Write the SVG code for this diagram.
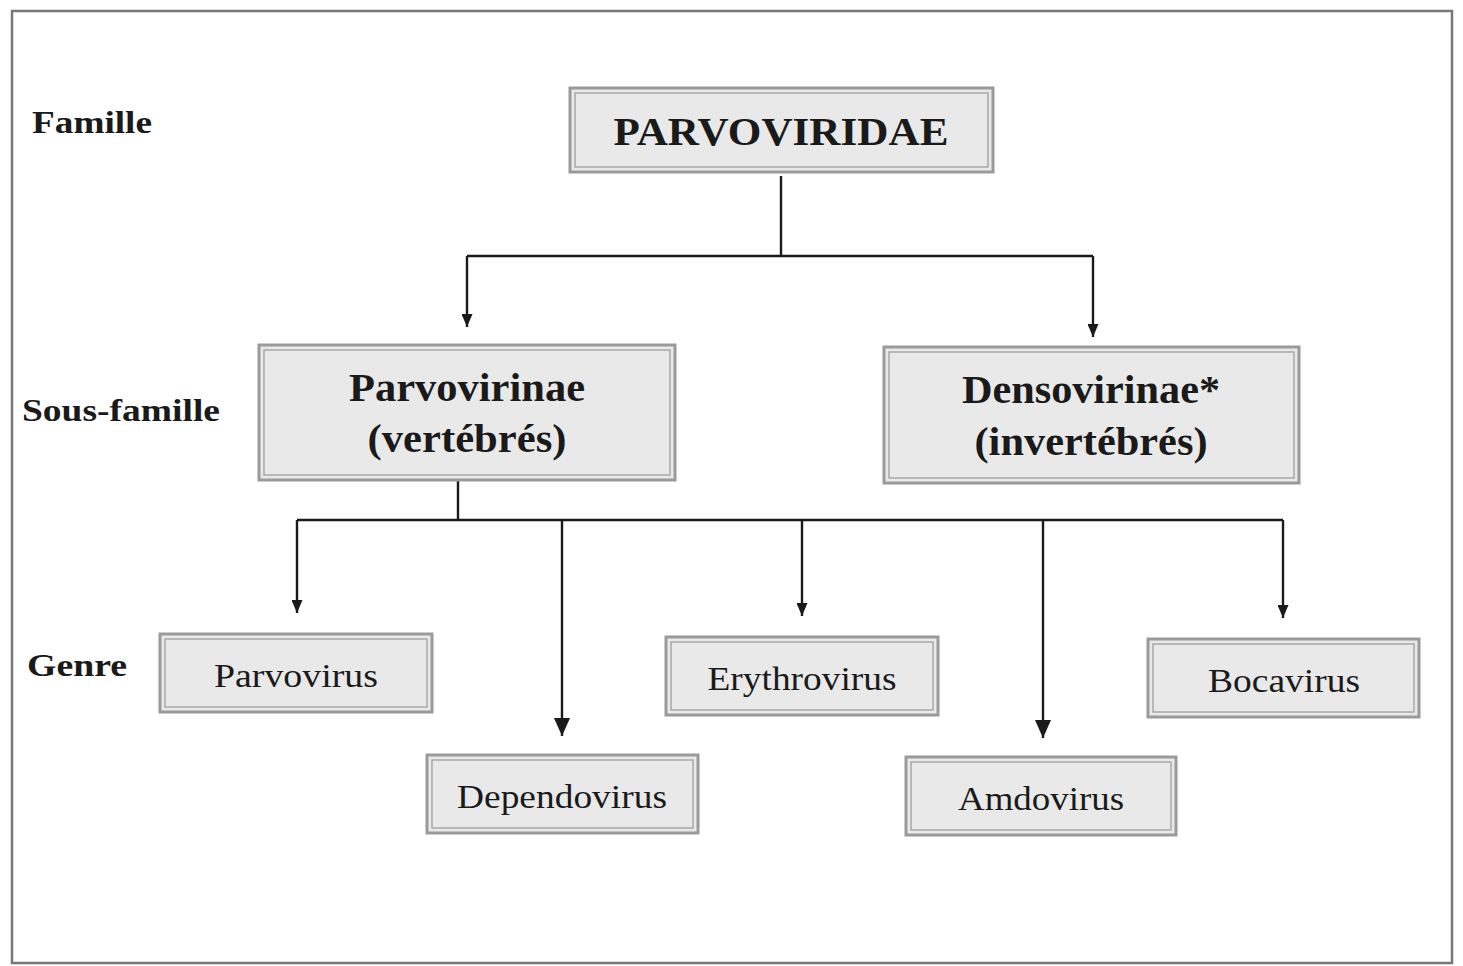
<svg xmlns="http://www.w3.org/2000/svg" width="1463" height="966" viewBox="0 0 1463 966">
<style>
.box{fill:#e9e9e9;stroke:#9a9a9a;stroke-width:3}
.inner{fill:none;stroke:#a8a8a8;stroke-width:1.5}
.t{font-family:"Liberation Serif","Times New Roman",serif;fill:#1a1a1a;text-anchor:middle}
.b{font-weight:bold}
.lab{font-family:"Liberation Serif","Times New Roman",serif;font-weight:bold;fill:#1a1a1a;font-size:32px}
.c{fill:none;stroke:#1a1a1a;stroke-width:2.4}
</style>
<defs>
<marker id="ah" viewBox="0 0 13 11" refX="13" refY="5.5" markerWidth="13" markerHeight="11" markerUnits="userSpaceOnUse" orient="auto">
<path d="M0,0 L13,5.5 L0,11 Z" fill="#1a1a1a"/>
</marker>
<marker id="ahL" viewBox="0 0 18 16" refX="18" refY="8" markerWidth="18" markerHeight="16" markerUnits="userSpaceOnUse" orient="auto">
<path d="M0,0 L18,8 L0,16 Z" fill="#1a1a1a"/>
</marker>
</defs>
<rect width="1463" height="966" fill="#fff"/>
<rect x="12" y="11" width="1440" height="952" fill="none" stroke="#777" stroke-width="2.5"/>
<g id="labels">
<text class="lab" x="32" y="133" textLength="120" lengthAdjust="spacingAndGlyphs">Famille</text>
<text class="lab" x="22" y="421" textLength="198" lengthAdjust="spacingAndGlyphs">Sous-famille</text>
<text class="lab" x="27" y="676" textLength="100" lengthAdjust="spacingAndGlyphs">Genre</text>
</g>
<g id="connectors">
<path class="c" d="M781,176 V256 M467,256 H1093"/>
<path class="c" d="M467,256 V327" marker-end="url(#ah)"/>
<path class="c" d="M1093,256 V337" marker-end="url(#ah)"/>
<path class="c" d="M458,478 V520 M297,520 H1283"/>
<path class="c" d="M297,520 V613" marker-end="url(#ah)"/>
<path class="c" d="M562,520 V736" marker-end="url(#ahL)"/>
<path class="c" d="M802,520 V616" marker-end="url(#ah)"/>
<path class="c" d="M1043,520 V738" marker-end="url(#ahL)"/>
<path class="c" d="M1283,520 V618" marker-end="url(#ah)"/>
</g>
<g id="n-parvoviridae">
<rect class="box" x="570" y="88" width="423" height="84"/>
<rect class="inner" x="575" y="93" width="413" height="74"/>
<text class="t b" x="781" y="145" font-size="39" textLength="335" lengthAdjust="spacingAndGlyphs">PARVOVIRIDAE</text>
</g>
<g id="n-parvovirinae">
<rect class="box" x="259" y="345" width="416" height="135"/>
<rect class="inner" x="264" y="350" width="406" height="125"/>
<text class="t b" x="467" y="401" font-size="39" textLength="236" lengthAdjust="spacingAndGlyphs">Parvovirinae</text>
<text class="t b" x="467" y="452" font-size="39" textLength="199" lengthAdjust="spacingAndGlyphs">(vertébrés)</text>
</g>
<g id="n-densovirinae">
<rect class="box" x="884" y="347" width="415" height="136"/>
<rect class="inner" x="889" y="352" width="405" height="126"/>
<text class="t b" x="1091" y="403" font-size="39" textLength="258" lengthAdjust="spacingAndGlyphs">Densovirinae*</text>
<text class="t b" x="1091" y="455" font-size="39" textLength="233" lengthAdjust="spacingAndGlyphs">(invertébrés)</text>
</g>
<g id="n-parvovirus">
<rect class="box" x="160" y="634" width="272" height="78"/>
<rect class="inner" x="165" y="639" width="262" height="68"/>
<text class="t" x="296" y="687" font-size="34" textLength="164" lengthAdjust="spacingAndGlyphs">Parvovirus</text>
</g>
<g id="n-dependovirus">
<rect class="box" x="427" y="755" width="271" height="78"/>
<rect class="inner" x="432" y="760" width="261" height="68"/>
<text class="t" x="562" y="808" font-size="34" textLength="210" lengthAdjust="spacingAndGlyphs">Dependovirus</text>
</g>
<g id="n-erythrovirus">
<rect class="box" x="666" y="637" width="272" height="78"/>
<rect class="inner" x="671" y="642" width="262" height="68"/>
<text class="t" x="802" y="690" font-size="34" textLength="189" lengthAdjust="spacingAndGlyphs">Erythrovirus</text>
</g>
<g id="n-amdovirus">
<rect class="box" x="906" y="757" width="270" height="78"/>
<rect class="inner" x="911" y="762" width="260" height="68"/>
<text class="t" x="1041" y="810" font-size="34" textLength="166" lengthAdjust="spacingAndGlyphs">Amdovirus</text>
</g>
<g id="n-bocavirus">
<rect class="box" x="1148" y="639" width="271" height="78"/>
<rect class="inner" x="1153" y="644" width="261" height="68"/>
<text class="t" x="1284" y="692" font-size="34" textLength="152" lengthAdjust="spacingAndGlyphs">Bocavirus</text>
</g>
</svg>
